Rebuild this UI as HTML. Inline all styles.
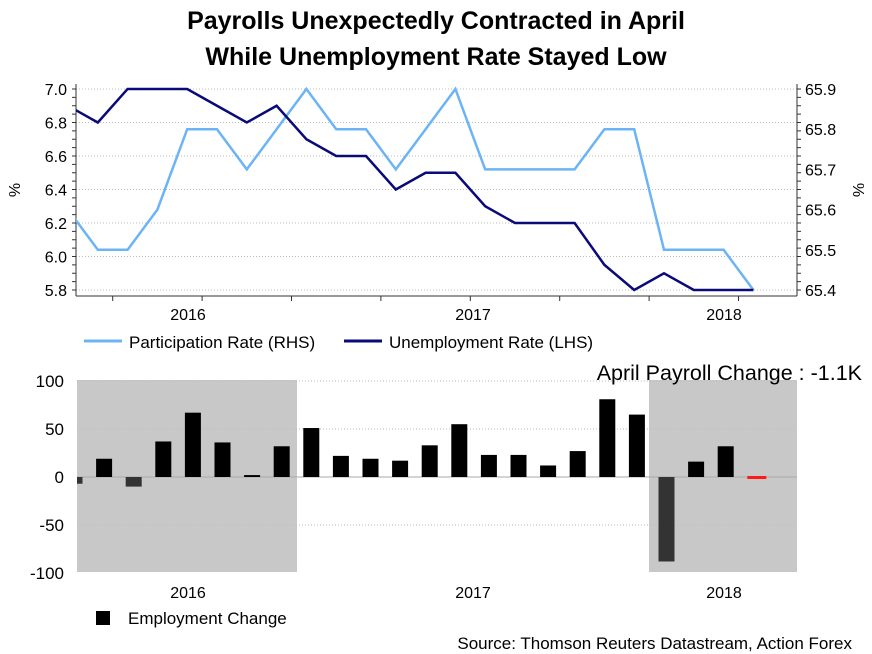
<!DOCTYPE html>
<html><head><meta charset="utf-8"><style>
body{margin:0;background:#fff;}
svg{display:block;font-family:"Liberation Sans",Arial,sans-serif;}
</style></head><body>
<svg id="c" width="872" height="654" viewBox="0 0 872 654">
<defs><clipPath id="tc"><rect x="76" y="80" width="721" height="220"/></clipPath>
<clipPath id="bc"><rect x="77" y="375" width="720" height="200"/></clipPath></defs>
<text x="436" y="29" text-anchor="middle" font-size="25" font-weight="bold">Payrolls Unexpectedly Contracted in April</text>
<text x="436" y="65" text-anchor="middle" font-size="25" font-weight="bold">While Unemployment Rate Stayed Low</text>
<g id="topPanel"></g>
<g id="botPanel"></g>
<line x1="84" y1="341" x2="122" y2="341" stroke="#6cb4f5" stroke-width="3"/>
<text x="129" y="348" font-size="17">Participation Rate (RHS)</text>
<line x1="344" y1="341" x2="382" y2="341" stroke="#0a0a78" stroke-width="3"/>
<text x="389" y="348" font-size="17">Unemployment Rate (LHS)</text>
<text x="862" y="380" text-anchor="end" font-size="21.5">April Payroll Change : -1.1K</text>
<rect x="96" y="611" width="14" height="14" fill="#000"/>
<text x="128" y="624" font-size="17">Employment Change</text>
<text x="852" y="649" text-anchor="end" font-size="17">Source: Thomson Reuters Datastream, Action Forex</text>
</svg>
<script>
const months = ["May16","Jun16","Jul16","Aug16","Sep16","Oct16","Nov16","Dec16","Jan17","Feb17","Mar17","Apr17","May17","Jun17","Jul17","Aug17","Sep17","Oct17","Nov17","Dec17","Jan18","Feb18","Mar18","Apr18"];
const unemployment = [6.9,6.8,7.0,7.0,7.0,6.9,6.8,6.9,6.7,6.6,6.6,6.4,6.5,6.5,6.3,6.2,6.2,6.2,5.95,5.8,5.9,5.8,5.8,5.8];
const participation = [65.6,65.5,65.5,65.6,65.8,65.8,65.7,65.8,65.9,65.8,65.8,65.7,65.8,65.9,65.7,65.7,65.7,65.7,65.8,65.8,65.5,65.5,65.5,65.4];
const employment = [-7,19,-10,37,67,36,2,32,51,22,19,17,33,55,23,23,12,27,81,65,-88,16,32,-1.1];
const leftTicks = [5.8,6.0,6.2,6.4,6.6,6.8,7.0];
const rightTicks = [65.4,65.5,65.6,65.7,65.8,65.9];
const barTicks = [-100,-50,0,50,100];
const yearLabels = ["2016","2017","2018"];

(function(){
const NS="http://www.w3.org/2000/svg";
function mk(p,t,a){const e=document.createElementNS(NS,t);for(const k in a)e.setAttribute(k,a[k]);p.appendChild(e);return e;}
const tp=document.getElementById('topPanel'), bp=document.getElementById('botPanel');
const xT=i=>68+29.8*i;
const yL=v=>89+(7.0-v)*(201/1.2);
const yR=v=>89+(65.9-v)*(201/0.5);
const xB=i=>74.5+29.6*i;
const yB=v=>477-v*0.96;

leftTicks.forEach(v=>{
 const g=mk(tp,'line',{x1:76,x2:797,y1:yL(v),y2:yL(v),stroke:'#bbb','stroke-dasharray':'1,2'});
 
 
 const t=mk(tp,'text',{x:67,y:yL(v)+6,'text-anchor':'end','font-size':16});t.textContent=v.toFixed(1);
 
 
});
rightTicks.forEach(v=>{
 const t=mk(tp,'text',{x:805,y:yR(v)+6,'font-size':16});t.textContent=v.toFixed(1);
 
 
});
for(let v=5.8;v<=7.001;v+=0.05){mk(tp,'line',{x1:72,x2:76,y1:yL(v),y2:yL(v),stroke:'#333'});mk(tp,'line',{x1:797,x2:801,y1:yL(v),y2:yL(v),stroke:'#333'});}
mk(tp,'line',{x1:76,x2:76,y1:84,y2:296,stroke:'#333'});
mk(tp,'line',{x1:797,x2:797,y1:84,y2:296,stroke:'#333'});
mk(tp,'line',{x1:76,x2:797,y1:296,y2:296,stroke:'#333'});
for(let k=0;k<8;k++){const x=xT(1.5+3*k);mk(tp,'line',{x1:x,x2:x,y1:296,y2:301,stroke:'#333'});}
const yl=mk(tp,'text',{x:0,y:0,'font-size':16,transform:'translate(20,190) rotate(-90)','text-anchor':'middle'});yl.textContent='%';


const yr=mk(tp,'text',{x:0,y:0,'font-size':16,transform:'translate(853,190) rotate(90)','text-anchor':'middle'});yr.textContent='%';


[188,473,724].forEach((x,i)=>{const t=mk(tp,'text',{x:x,y:320,'text-anchor':'middle','font-size':16});t.textContent=yearLabels[i];
 
 });
const pp=mk(tp,'polyline',{points:participation.map((v,i)=>xT(i)+','+yR(v)).join(' '),fill:'none',stroke:'#6cb4f5','stroke-width':2.5,'clip-path':'url(#tc)'});


const up=mk(tp,'polyline',{points:unemployment.map((v,i)=>xT(i)+','+yL(v)).join(' '),fill:'none',stroke:'#0a0a78','stroke-width':2.5,'clip-path':'url(#tc)'});



const s1=mk(bp,'rect',{x:77,y:380,width:220,height:192,fill:'#c8c8c8'});


const s2=mk(bp,'rect',{x:649,y:380,width:148,height:192,fill:'#c8c8c8'});


barTicks.forEach(v=>{
 if(v!==-100){const g=mk(bp,'line',{x1:77,x2:797,y1:yB(v),y2:yB(v),stroke:v===0?'#aaa':'#bbb','stroke-dasharray':v===0?'':'1,2'});
 
 }
 const t=mk(bp,'text',{x:64,y:yB(v)+6,'text-anchor':'end','font-size':17});t.textContent=v;
 
 
});
employment.forEach((v,i)=>{
 const last=i===employment.length-1;
 const x=xB(i)-8,h=Math.max(Math.abs(v)*0.96,last?3:1);
 const y=v>=0?yB(v):yB(0);
 const r=mk(bp,'rect',{x:x,y:last?yB(0)-1:y,width:last?19:16,height:h,fill:last?'#ff1a1a':(v<0?'#333':'#000'),'clip-path':'url(#bc)'});
 
 
});
[188,473,724].forEach((x,i)=>{const t=mk(bp,'text',{x:x,y:598,'text-anchor':'middle','font-size':16});t.textContent=yearLabels[i];
 
 });
})();
</script>
</body></html>
